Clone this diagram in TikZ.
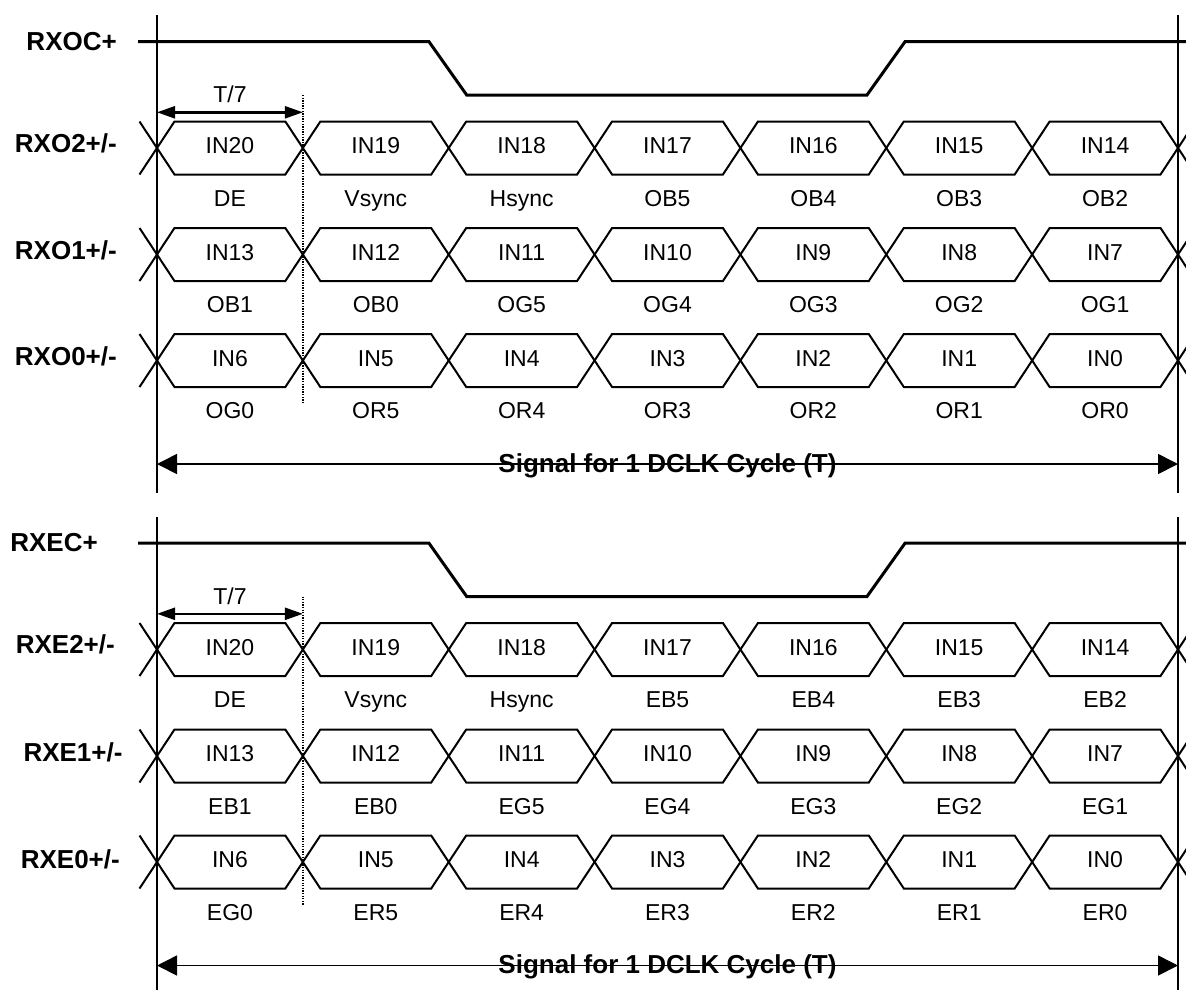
\documentclass[tikz,border=0pt]{standalone}
\usepackage{fontspec}
\setmainfont{Liberation Sans}
\usetikzlibrary{arrows.meta}
\tikzset{
  hex/.style={line width=2pt, line join=miter},
  clk/.style={line width=3pt, line join=miter},
  vline/.style={line width=2pt},
  dotline/.style={line width=1.3pt, dash pattern=on 1.3pt off 1.3pt},
  cycarrow/.style={line width=1.6pt, {Triangle[length=20pt,width=20pt]}-{Triangle[length=20pt,width=20pt]}},
  tarrow/.style={line width=2.4pt, {Triangle[length=18pt,width=12pt]}-{Triangle[length=18pt,width=12pt]}},
  val/.style={inner sep=0pt, anchor=base, font=\fontsize{23}{27}\selectfont},
  sig/.style={inner sep=0pt, anchor=base east, font=\fontsize{26}{30}\selectfont\bfseries},
  cyc/.style={inner sep=0pt, anchor=base, font=\fontsize{26}{30}\selectfont\bfseries},
}
\newcommand\sigrow[3]{%
  \foreach [count=\k from 0] \t/\b in {#2} {
    \pgfmathsetmacro\xa{157+\k*145.857}
    \pgfmathsetmacro\xb{\xa+145.857}
    \pgfmathsetmacro\xm{\xa+72.93}
    \draw[hex] (\xa,#1) -- (\xa+17.5,#1-26.5) -- (\xb-17.5,#1-26.5) -- (\xb,#1)
      -- (\xb-17.5,#1+26.5) -- (\xa+17.5,#1+26.5) -- cycle;
    \node[val] (#3v\k) at (\xm,#1+5.5) {\t};
    \node[val] (#3b\k) at (\xm,#1+58) {\b};
  }
  \draw[hex] (139.5,#1-26.5) -- (157,#1) -- (139.5,#1+26.5);
  \draw[hex] (1195.5,#1-26.5) -- (1178,#1) -- (1195.5,#1+26.5);
}
\begin{document}
\begin{tikzpicture}[x=1pt,y=-1pt]
\useasboundingbox (0,0) rectangle (1186,989);

% ---------- section 1 (odd) ----------
\draw[vline] (157,15) -- (157,493);
\draw[vline] (1178,15) -- (1178,493);
\draw[clk] (138,41.7) -- (429,41.7) -- (466.7,95) -- (867,95) -- (905,41.7) -- (1190,41.7);
\node[sig] (lOC) at (117,50) {RXOC+};

\coordinate (t1a) at (157,112.3);
\coordinate (t1b) at (302.9,112.3);
\draw[tarrow] (t1a) -- (t1b);
\node[val] (t1) at (230,102.7) {T/7};
\draw[dotline] (302.9,95) -- (302.9,404);

\sigrow{148}{IN20/DE,IN19/Vsync,IN18/Hsync,IN17/OB5,IN16/OB4,IN15/OB3,IN14/OB2}{oa}
\sigrow{254.5}{IN13/OB1,IN12/OB0,IN11/OG5,IN10/OG4,IN9/OG3,IN8/OG2,IN7/OG1}{ob}
\sigrow{360.5}{IN6/OG0,IN5/OR5,IN4/OR4,IN3/OR3,IN2/OR2,IN1/OR1,IN0/OR0}{oc}
\node[sig] (lO2) at (117,152.5) {RXO2+/-};
\node[sig] (lO1) at (117,259) {RXO1+/-};
\node[sig] (lO0) at (117,365) {RXO0+/-};

\coordinate (c1a) at (157,464);
\coordinate (c1b) at (1178,464);
\draw[cycarrow] (c1a) -- (c1b);
\node[cyc] (cy1) at (667.5,472) {Signal for 1 DCLK Cycle (T)};

% ---------- section 2 (even) ----------
\draw[vline] (157,516.5) -- (157,995);
\draw[vline] (1178,516.5) -- (1178,995);
\draw[clk] (138,543.2) -- (429,543.2) -- (466.7,596.5) -- (867,596.5) -- (905,543.2) -- (1190,543.2);
\node[sig] (lEC) at (98,551.5) {RXEC+};

\coordinate (t2a) at (157,613.8);
\coordinate (t2b) at (302.9,613.8);
\draw[tarrow] (t2a) -- (t2b);
\node[val] (t2) at (230,604.2) {T/7};
\draw[dotline] (302.9,596.5) -- (302.9,905.5);

\sigrow{649.5}{IN20/DE,IN19/Vsync,IN18/Hsync,IN17/EB5,IN16/EB4,IN15/EB3,IN14/EB2}{ea}
\sigrow{756}{IN13/EB1,IN12/EB0,IN11/EG5,IN10/EG4,IN9/EG3,IN8/EG2,IN7/EG1}{eb}
\sigrow{862}{IN6/EG0,IN5/ER5,IN4/ER4,IN3/ER3,IN2/ER2,IN1/ER1,IN0/ER0}{ec}
\node[sig] (lE2) at (115,653) {RXE2+/-};
\node[sig] (lE1) at (122.7,761.5) {RXE1+/-};
\node[sig] (lE0) at (120,868) {RXE0+/-};

\coordinate (c2a) at (157,965.5);
\coordinate (c2b) at (1178,965.5);
\draw[cycarrow] (c2a) -- (c2b);
\node[cyc] (cy2) at (667.5,973.5) {Signal for 1 DCLK Cycle (T)};
\end{tikzpicture}
\end{document}
